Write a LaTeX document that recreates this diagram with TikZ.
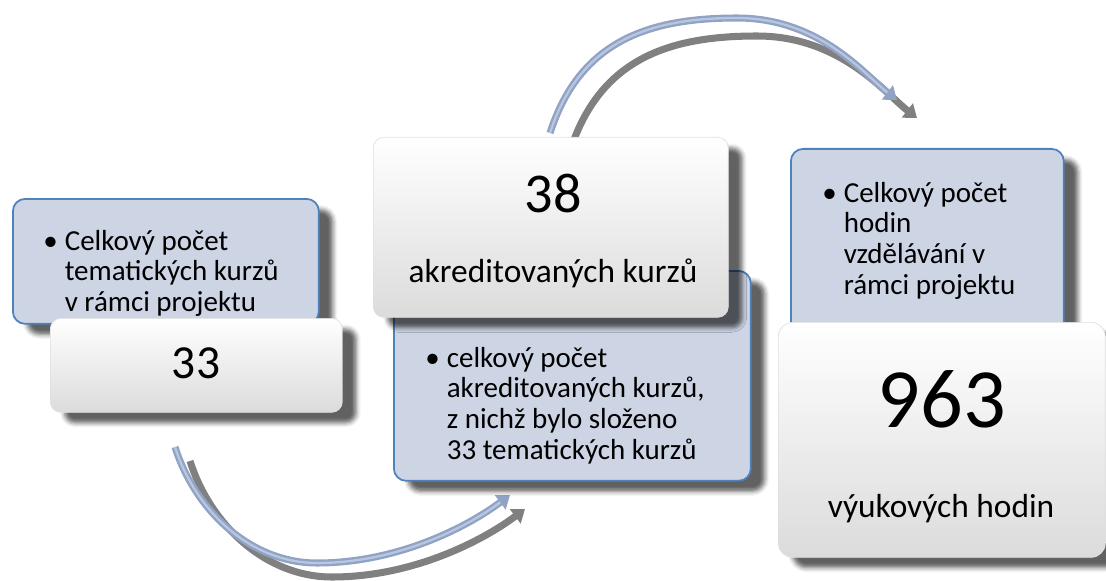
\documentclass[tikz,border=0pt]{standalone}
\usepackage{fontspec}
\setmainfont{Carlito}
\usetikzlibrary{arrows.meta,shadows.blur}
\definecolor{boxfill}{HTML}{CDD4E4}
\definecolor{boxline}{HTML}{4F81BD}
\definecolor{arrowdark}{HTML}{91A3C5}
\definecolor{arrowlight}{HTML}{B8C6DF}
\begin{document}
\begin{tikzpicture}[x=0.02cm, y=-0.02cm,
    bluebox/.style={draw=boxline, line width=1pt, fill=boxfill, rounded corners=7pt,
      anchor=north west, inner sep=0pt,
      blur shadow={shadow xshift=8pt, shadow yshift=-6pt, shadow opacity=62, shadow blur radius=2.5pt}},
    whitebox/.style={draw=black!12, line width=0.4pt, top color=white, bottom color=black!14,
      rounded corners=6pt, anchor=north west, inner sep=0pt,
      blur shadow={shadow xshift=8pt, shadow yshift=-6pt, shadow opacity=62, shadow blur radius=2.5pt}},
    bullets/.style={anchor=base west, inner sep=0pt, font=\fontsize{16.5}{17.5}\selectfont},
    bignum/.style={anchor=base, inner sep=0pt},
    caption/.style={anchor=base, inner sep=0pt, font=\fontsize{19}{22}\selectfont},
    arrow/.style={draw=arrowdark, line width=4pt, -{Triangle[length=7pt,width=10pt]}},
    arrowlit/.style={draw=arrowlight, line width=1.3pt, shorten >=7pt},
    arrowshadow/.style={draw=black!50, line width=4pt, -{Triangle[length=7pt,width=10pt]}}]
  \useasboundingbox (0,0) rectangle (1106,581);

  % ends of the two curved arrows
  \coordinate (a1s) at (175,447);
  \coordinate (a1m) at (317,563);
  \coordinate (a1e) at (510,495);
  \coordinate (a2s) at (550,133);
  \coordinate (a2m) at (737,18);
  \coordinate (a2e) at (897,100);

  \draw[arrowshadow] ([shift={(15,14)}]a1s) .. controls +(20,63) and +(-67,0) .. ([shift={(15,14)}]a1m)
      .. controls +(83,0) and +(-40,30) .. ([shift={(15,14)}]a1e);
  \draw[arrow] (a1s) .. controls +(20,63) and +(-67,0) .. (a1m) .. controls +(83,0) and +(-40,30) .. (a1e);
  \draw[arrowlit] (a1s) .. controls +(20,63) and +(-67,0) .. (a1m) .. controls +(83,0) and +(-40,30) .. (a1e);

  \draw[arrowshadow] ([shift={(20,18)}]a2s) .. controls +(30,-93) and +(-87,0) .. ([shift={(20,18)}]a2m)
      .. controls +(83,0) and +(-32,-25) .. ([shift={(20,18)}]a2e);
  \draw[arrow] (a2s) .. controls +(30,-93) and +(-87,0) .. (a2m) .. controls +(83,0) and +(-32,-25) .. (a2e);
  \draw[arrowlit] (a2s) .. controls +(30,-93) and +(-87,0) .. (a2m) .. controls +(83,0) and +(-32,-25) .. (a2e);

  % first pair
  \node[bluebox, minimum width=6.12cm, minimum height=2.5cm] (b1) at (12,198) {};
  \node[bullets] (t1) at (43,250) {\begin{tabular}[t]{@{}l@{\hspace{4pt}}l@{}}
      \textbullet & Celkový počet\\ & tematických kurzů\\ & v rámci projektu\end{tabular}};
  \node[whitebox, minimum width=5.84cm, minimum height=1.88cm] (w1) at (50,318) {};
  \node[bignum, font=\fontsize{27}{30}\selectfont] (n33) at (196,378) {33};

  % second pair
  \node[bluebox, minimum width=7.14cm, minimum height=4.2cm] (b2) at (393,270) {};
  \node[bullets] (t2) at (425,367) {\begin{tabular}[t]{@{}l@{\hspace{4pt}}l@{}}
      \textbullet & celkový počet\\ & akreditovaných kurzů,\\ & z nichž bylo složeno\\ & 33 tematických kurzů\end{tabular}};
  \node[whitebox, minimum width=7.1cm, minimum height=3.6cm] (w2) at (373,137) {};
  \node[bignum, font=\fontsize{32}{36}\selectfont] (n38) at (553,213) {38};
  \node[caption] (l38) at (553,282) {akreditovaných kurzů};

  % third pair
  \node[bluebox, minimum width=5.46cm, minimum height=3.7cm] (b3) at (790,148) {};
  \node[bullets] (t3) at (822,202) {\begin{tabular}[t]{@{}l@{\hspace{4pt}}l@{}}
      \textbullet & Celkový počet\\ & hodin\\ & vzdělávání v\\ & rámci projektu\end{tabular}};
  \node[whitebox, rounded corners=8pt, minimum width=6.54cm, minimum height=4.7cm] (w3) at (778,322) {};
  \node[bignum, font=\fontsize{48}{54}\selectfont] (n963) at (942,427) {963};
  \node[caption] (l963) at (941,517) {výukových hodin};
\end{tikzpicture}
\end{document}
